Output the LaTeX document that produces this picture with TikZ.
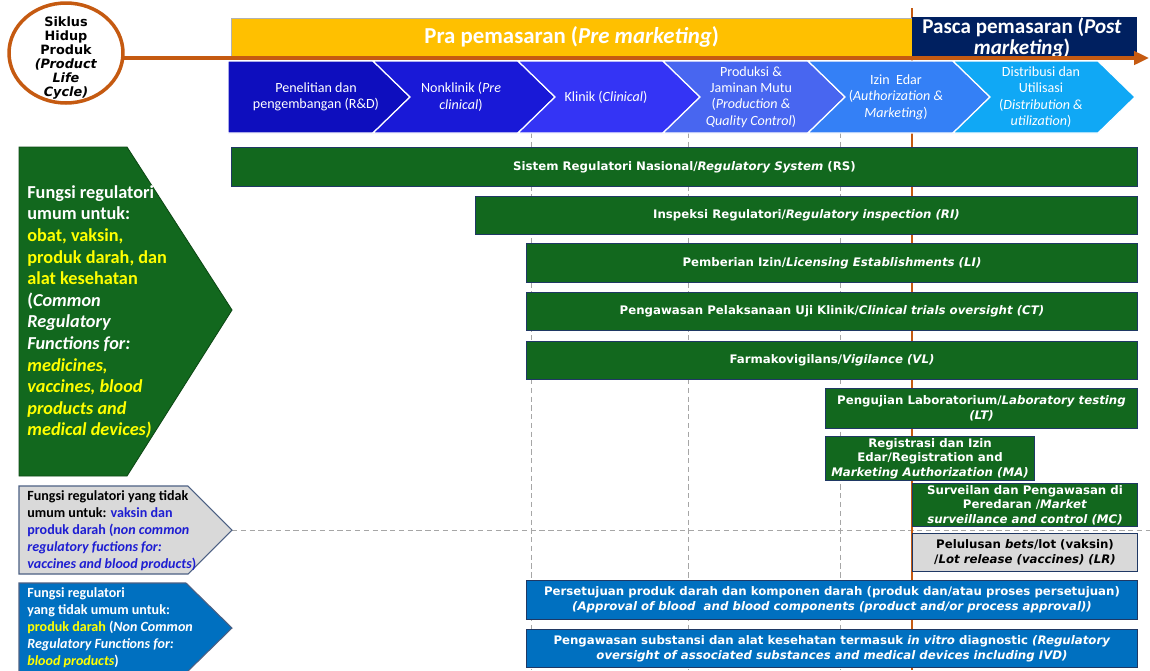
\documentclass[tikz,border=0pt]{standalone}
\usepackage{fontspec}
\setmainfont{Carlito}
\newfontfamily\verd{DejaVu Sans}
\usepackage{xcolor}
\usepackage{tikz}
\usetikzlibrary{shapes.geometric, arrows.meta, positioning, calc}
\definecolor{orng}{RGB}{197,90,17}
\definecolor{ylw}{RGB}{255,192,0}
\definecolor{navy}{RGB}{0,32,96}
\definecolor{grn}{RGB}{18,104,30}
\definecolor{bpblue}{RGB}{0,112,192}
\definecolor{lgrey}{RGB}{217,217,217}
\definecolor{edge}{RGB}{31,56,100}
\definecolor{hilite}{RGB}{255,255,0}
\definecolor{bltxt}{RGB}{30,30,210}
\definecolor{chA}{RGB}{14,14,190}
\definecolor{chB}{RGB}{25,25,215}
\definecolor{chC}{RGB}{52,52,245}
\definecolor{chD}{RGB}{72,102,240}
\definecolor{chE}{RGB}{52,128,246}
\definecolor{chF}{RGB}{16,168,245}
\newcommand\boxfont{\verd\bfseries\fontsize{6.7}{8.3}\selectfont}
\tikzstyle{regbox} = [draw=edge, fill=grn, text=white, font=\boxfont, align=center, anchor=north west, inner sep=1pt, line width=0.6pt]
\tikzstyle{bloodbox} = [regbox, fill=bpblue]
\tikzstyle{lotbox} = [regbox, fill=lgrey, text=black]
\tikzstyle{chevtext} = [text=white, font=\fontsize{8}{9.3}\selectfont, align=center]
\tikzstyle{sidetext} = [text=white, font=\bfseries\fontsize{8}{9.7}\selectfont, align=left, anchor=north west, inner sep=0pt]
\tikzstyle{guide} = [gray!70, line width=0.5pt, dash pattern=on 3pt off 2pt]

\begin{document}
\begin{tikzpicture}[x=0.02cm,y=-0.02cm]
\useasboundingbox[fill=white] (0,0) rectangle (1150,670);

% dashed guides and the market line
\foreach \gx in {531,688,840}
  \draw[guide] (\gx,133) -- (\gx,670);
\coordinate (greytip) at (232,530);
\coordinate (dashend) at (1150,530);
\draw[guide] (greytip) -- (dashend);
\draw[orng, line width=1.1pt] (912,8) -- (912,670);

% phases
\node[draw=gray!60, fill=ylw, minimum width=13.62cm, minimum height=0.76cm, anchor=north west, inner sep=0pt,
      text=white, font=\bfseries\fontsize{13}{14}\selectfont] (pra) at (231,18) {Pra pemasaran (\textit{Pre marketing})};
\node[fill=navy, minimum width=4.5cm, minimum height=0.8cm, anchor=north west, inner sep=0pt] (pasca) at (912,17) {};
\begin{scope}
  \clip (pasca.south west) rectangle (pasca.north east);
  \node[text=white, font=\bfseries\fontsize{12}{12.3}\selectfont, align=center] (pasca-text) at (1022,38) {Pasca pemasaran (\textit{Post}\\\textit{marketing})};
\end{scope}

\coordinate (lifestart) at (110,58);
\coordinate (lifeend) at (1149,58);
\draw[orng, line width=2.2pt, -{Triangle[length=8.5pt,width=7.5pt]}] (lifestart) -- (lifeend);
\node[draw=orng, fill=white, line width=2pt, ellipse, minimum width=2.28cm, minimum height=2cm, inner sep=0pt] (siklus) at (66,53) {};
\node[font=\verd\bfseries\fontsize{7.3}{8}\selectfont, align=center, inner sep=0pt] (siklus-text) at (66,58)
      {Siklus\\Hidup\\Produk\\\textit{(Product}\\\textit{Life}\\\textit{Cycle)}};

% life cycle chevrons
\foreach \i/\col/\txt in {
  0/chA/{Penelitian dan\\pengembangan (R\&D)},
  1/chB/{Nonklinik (\textit{Pre}\\\textit{clinical})},
  2/chC/{Klinik (\textit{Clinical})},
  3/chD/{Produksi \&\\Jaminan Mutu\\(\textit{Production \&}\\\textit{Quality Control})},
  4/chE/{Izin\ \ Edar\\(\textit{Authorization \&}\\\textit{Marketing})},
  5/chF/{Distribusi dan\\Utilisasi\\(\textit{Distribution \&}\\\textit{utilization})}} {
  \pgfmathsetmacro\b{228+145*\i}
  \pgfmathsetmacro\n{\i==0 ? 0 : 37}
  \fill[\col, draw=white, line width=0.7pt] (\b,61) -- ++(145,0) -- ++(37,36) -- ++(-37,36) -- ++(-145,0) -- ++(\n,-36) -- cycle;
  \node[chevtext] (chev-\i) at (\b+88,97) {\txt};
}

% regulatory functions
\node[regbox, minimum width=18.12cm, minimum height=0.78cm] (rs) at (231,147) {Sistem Regulatori Nasional/\textit{Regulatory System} (RS)};
\node[regbox, minimum width=13.24cm, minimum height=0.76cm] (ri) at (475,196) {Inspeksi Regulatori/\textit{Regulatory inspection (RI)}};
\node[regbox, minimum width=12.22cm, minimum height=0.78cm] (li) at (526,243) {Pemberian Izin/\textit{Licensing Establishments (LI)}};
\node[regbox, minimum width=12.22cm, minimum height=0.76cm] (ct) at (526,292) {Pengawasan Pelaksanaan Uji Klinik/\textit{Clinical trials oversight (CT)}};
\node[regbox, minimum width=12.22cm, minimum height=0.76cm] (vl) at (526,341) {Farmakovigilans/\textit{Vigilance (VL)}};
\node[regbox, minimum width=6.24cm, minimum height=0.8cm] (lt) at (825,388) {Pengujian Laboratorium/\textit{Laboratory testing}\\\textit{(LT)}};
\node[regbox, minimum width=4.18cm, minimum height=0.8cm] (ma) at (825,436) {Registrasi dan Izin\\Edar/Registration and\\\textit{Marketing Authorization (MA)}};
\node[regbox, minimum width=4.5cm, minimum height=0.82cm] (mc) at (912,483) {Surveilan dan Pengawasan di\\Peredaran /\textit{Market}\\\textit{surveillance and control (MC)}};
\node[lotbox, minimum width=4.5cm, minimum height=0.76cm] (lr) at (912,533) {Pelulusan \textit{bets}/lot (vaksin)\\/\textit{Lot release (vaccines) (LR)}};
\node[bloodbox, minimum width=12.22cm, minimum height=0.78cm] (bp) at (526,580) {Persetujuan produk darah dan komponen darah (produk dan/atau proses persetujuan)\\\textit{(Approval of blood\ \ and blood components (product and/or process approval))}};
\node[bloodbox, minimum width=12.22cm, minimum height=0.76cm] (ivd) at (526,629) {Pengawasan substansi dan alat kesehatan termasuk \textit{in vitro} diagnostic \textit{(Regulatory}\\\textit{oversight of associated substances and medical devices including IVD)}};

% function groups
\fill[grn, draw=grn!70!black, line width=0.5pt] (19,147) -- (127,147) -- (232,310) -- (127,476) -- (19,476) -- cycle;
\node[sidetext, font=\bfseries\fontsize{10.4}{12.3}\selectfont] (fungsi-umum) at (27,185) {Fungsi regulatori\\umum untuk:\\
  \textcolor{hilite}{obat, vaksin,}\\\textcolor{hilite}{produk darah, dan}\\\textcolor{hilite}{alat kesehatan}\\
  (\textit{Common}\\\textit{Regulatory}\\\textit{Functions for:}\\
  \textcolor{hilite}{\textit{medicines,}}\\\textcolor{hilite}{\textit{vaccines, blood}}\\\textcolor{hilite}{\textit{products and}}\\\textcolor{hilite}{\textit{medical devices)}}};

\fill[lgrey, draw=edge!80, line width=0.6pt] (19,486) -- (188,486) -- (greytip) -- (188,574) -- (19,574) -- cycle;
\node[sidetext, text=black] (fungsi-vaksin) at (27,490) {Fungsi regulatori yang tidak\\
  umum untuk: \textcolor{bltxt}{vaksin dan}\\
  \textcolor{bltxt}{produk darah (\textit{non common}}\\
  \textcolor{bltxt}{\textit{regulatory fuctions for:}}\\
  \textcolor{bltxt}{\textit{vaccines and blood products})}};

\fill[bpblue, draw=edge!80, line width=0.6pt] (19,583) -- (186,583) -- (232,628) -- (186,673) -- (19,673) -- cycle;
\node[sidetext] (fungsi-darah) at (27,587) {Fungsi regulatori\\yang tidak umum untuk:\\
  \textcolor{hilite}{produk darah} (\textit{Non Common}\\
  \textit{Regulatory Functions for:}\\
  \textcolor{hilite}{\textit{blood products}})};

\end{tikzpicture}
\end{document}
